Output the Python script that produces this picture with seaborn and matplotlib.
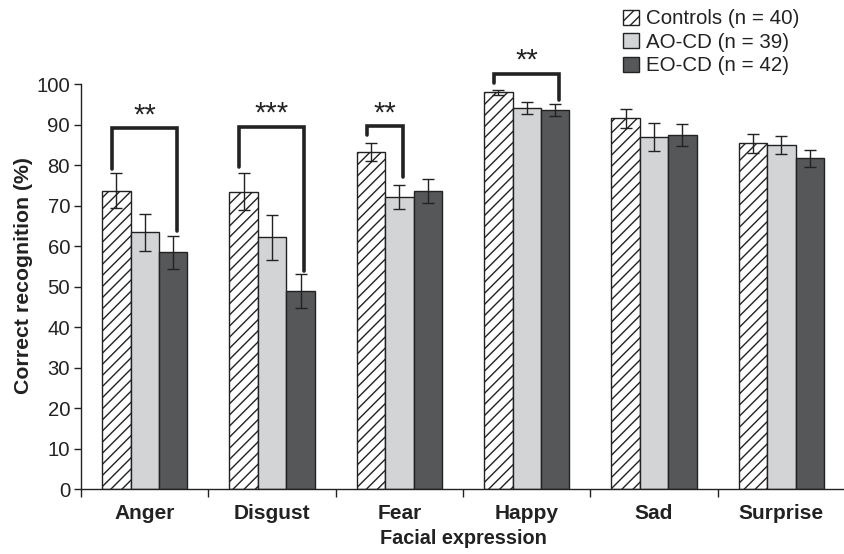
import numpy as np
import pandas as pd
import matplotlib
matplotlib.use('Agg')
import matplotlib.pyplot as plt
import seaborn as sns

# values
expressions = ['Anger', 'Disgust', 'Fear', 'Happy', 'Sad', 'Surprise']
groups = ['Controls (n = 40)', 'AO-CD (n = 39)', 'EO-CD (n = 42)']
controls = [73.7, 73.5, 83.2, 98.0, 91.6, 85.4]
ao_cd = [63.4, 62.2, 72.1, 94.2, 87.0, 85.0]
eo_cd = [58.5, 49.0, 73.6, 93.6, 87.4, 81.7]
controls_err = [4.3, 4.5, 2.2, 0.6, 2.3, 2.3]
ao_cd_err = [4.5, 5.6, 3.0, 1.5, 3.4, 2.3]
eo_cd_err = [4.1, 4.2, 3.0, 1.5, 2.7, 2.1]

# significance brackets: (expression index, group a, group b, top, leg a, leg b, label)
brackets = [
    (0, 0, 2, 89.1, 79.0, 63.7, '**'),
    (1, 0, 2, 89.4, 79.5, 54.0, '***'),
    (2, 0, 1, 89.6, 87.4, 77.0, '**'),
    (3, 0, 2, 102.6, 100.2, 96.2, '**'),
]

df = pd.DataFrame({
    'Expression': expressions * 3,
    'Group': np.repeat(groups, len(expressions)),
    'Value': controls + ao_cd + eo_cd,
})
errs = [controls_err, ao_cd_err, eo_cd_err]

sns.set_style('white')
plt.rcParams['font.family'] = ['Liberation Sans', 'DejaVu Sans']
plt.rcParams['hatch.linewidth'] = 1.0

fig = plt.figure(figsize=(8.45, 5.54), dpi=100)
ax = fig.add_axes([0.096, 0.117, 0.904, 0.804])

palette = ['white', '#d3d4d6', '#555759']
sns.barplot(data=df, x='Expression', y='Value', hue='Group', order=expressions,
            hue_order=groups, palette=palette, width=0.67, errorbar=None,
            edgecolor='#222222', linewidth=1.0, ax=ax)
bar_conts = list(ax.containers)

for c in bar_conts[0]:
    c.set_hatch('///')

# error bars at bar centres
centres = []
for cont, err in zip(bar_conts, errs):
    xs = [p.get_x() + p.get_width() / 2 for p in cont]
    ys = [p.get_height() for p in cont]
    centres.append(xs)
    ax.errorbar(xs, ys, yerr=err, fmt='none', ecolor='#222222',
                elinewidth=1.0, capsize=4.5, capthick=1.0, zorder=5)

# brackets
for i, a, b, top, la, lb, lab in brackets:
    xa = centres[a][i] - 0.035
    xb = centres[b][i] + 0.03
    ax.plot([xa, xa, xb, xb], [la, top, top, lb], color='#222222', lw=2.6,
            solid_joinstyle='miter', clip_on=False, zorder=6)
    ax.text((xa + xb) / 2, top - 0.2, lab, ha='center', va='bottom',
            fontsize=21, color='#222222')

ax.set_ylim(0, 110)
ax.set_xlim(-0.5, 5.47)
ax.set_yticks(range(0, 101, 10))
ax.spines['left'].set_bounds(0, 100)
ax.spines['top'].set_visible(False)
ax.spines['right'].set_visible(False)
for s in ['left', 'bottom']:
    ax.spines[s].set_color('#222222')
    ax.spines[s].set_linewidth(1.0)

ax.tick_params(axis='y', direction='out', length=5, width=1, color='#222222',
               labelsize=14.6, labelcolor='#222222', left=True, pad=3)
ax.set_xticks(np.arange(len(expressions)))
ax.set_xticklabels(expressions, fontweight='bold', fontsize=15, color='#222222')
ax.tick_params(axis='x', which='major', length=0, pad=11)
ax.set_xticks(np.arange(-0.5, len(expressions), 1.0), minor=True)
ax.tick_params(axis='x', which='minor', direction='out', length=6, width=1,
               color='#222222', bottom=True)

ax.set_xlabel('Facial expression', fontweight='bold', fontsize=14.3, color='#222222', labelpad=4)
ax.set_ylabel('Correct recognition (%)', fontweight='bold', fontsize=15.3, color='#222222')
ax.yaxis.set_label_coords(-0.063, 0.48)

if ax.get_legend() is not None:
    ax.get_legend().remove()
handles = [c.patches[0] for c in bar_conts]
leg = fig.legend(handles, groups, loc='upper left', bbox_to_anchor=(0.728, 0.998),
                 frameon=False, fontsize=14.8, handlelength=0.75, handleheight=0.75,
                 handletextpad=0.35, labelspacing=0.22, borderaxespad=0)
for t in leg.get_texts():
    t.set_color('#222222')

fig.savefig('out.png', dpi=100)
